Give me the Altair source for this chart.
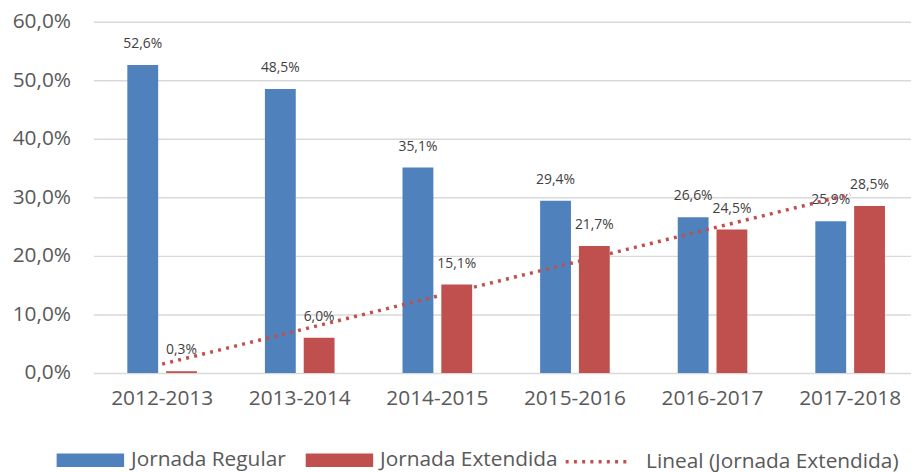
import altair as alt
import pandas as pd
import numpy as np

years = ["2012-2013", "2013-2014", "2014-2015", "2015-2016", "2016-2017", "2017-2018"]
regular = [52.6, 48.5, 35.1, 29.4, 26.6, 25.9]
extendida = [0.3, 6.0, 15.1, 21.7, 24.5, 28.5]
series = ["Jornada Regular", "Jornada Extendida"]
trend_name = "Lineal (Jornada Extendida)"
colors = ["#4F81BD", "#C0504D"]

def fmt(v):
    return f"{v:.1f}".replace(".", ",") + "%"

rows = []
for y, r, e in zip(years, regular, extendida):
    rows.append({"year": y, "serie": series[0], "value": r, "label": fmt(r)})
    rows.append({"year": y, "serie": series[1], "value": e, "label": fmt(e)})
df = pd.DataFrame(rows)

# linear trendline of the extended series (Excel "Lineal")
xs = np.arange(1, len(years) + 1)
slope, intercept = np.polyfit(xs, extendida, 1)
trend = pd.DataFrame({"year": years, "value": slope * xs + intercept, "t": trend_name})

FONT = "Open Sans"

x_enc = alt.X(
    "year:N", sort=years,
    scale=alt.Scale(type="band", paddingInner=0.494, paddingOuter=0.247, round=False),
    axis=alt.Axis(title=None, labelFontSize=21, labelColor="#595959", labelPadding=15,
                  ticks=False, domain=False, labelAngle=0, labelFont=FONT, grid=False),
)
y_enc = alt.Y(
    "value:Q",
    scale=alt.Scale(domain=[0, 60], nice=False),
    axis=alt.Axis(title=None, values=[0, 10, 20, 30, 40, 50, 60],
                  labelExpr="replace(format(datum.value, '.1f'), '.', ',') + '%'",
                  labelFontSize=21, labelColor="#595959", labelPadding=23, labelFont=FONT,
                  ticks=False, domain=False, gridColor="#D9D9D9", gridWidth=1.5),
)
xoff = alt.XOffset("serie:N", sort=series,
                   scale=alt.Scale(type="band", paddingInner=0.205, paddingOuter=0, round=False))

bar_legend = alt.Legend(
    title=None, orient="none", legendX=-37, legendY=408, direction="horizontal",
    labelFontSize=21, labelColor="#595959", labelFont=FONT, symbolSize=4624, labelLimit=500,
    symbolType="M-1,-0.2L1,-0.2L1,0.2L-1,0.2Z", symbolStrokeWidth=0, symbolOpacity=1,
    labelOffset=7, columnPadding=20,
)
line_legend = alt.Legend(
    title=None, orient="none", legendX=474, legendY=409, direction="horizontal",
    labelFontSize=21, labelColor="#595959", labelFont=FONT, symbolSize=4225, labelLimit=500,
    symbolType="stroke", symbolStrokeColor="#C0504D", symbolStrokeWidth=3.5,
    symbolOpacity=1, labelOffset=14,
)

bars = alt.Chart(df).mark_bar().encode(
    x=x_enc, xOffset=xoff, y=y_enc,
    color=alt.Color("serie:N", sort=series, scale=alt.Scale(domain=series, range=colors), legend=bar_legend),
)
labels = alt.Chart(df).mark_text(dy=-21, baseline="middle", fontSize=14, color="#404040", font=FONT).encode(
    x=x_enc, xOffset=xoff, y=y_enc, text="label:N",
)
line = alt.Chart(trend).mark_line(strokeWidth=3.5, color="#C0504D").encode(
    x=x_enc, y=y_enc,
    strokeDash=alt.StrokeDash("t:N", scale=alt.Scale(domain=[trend_name], range=[[3, 5.3]]),
                              legend=line_legend),
)

chart = alt.layer(bars, labels, line).properties(
    width=832, height=354,
    autosize=alt.AutoSizeParams(type="none"),
    padding={"left": 86, "top": 12, "right": -8, "bottom": 98},
).configure_view(stroke=None)

chart.save("out.html", embed_options={"renderer": "svg", "actions": False})
